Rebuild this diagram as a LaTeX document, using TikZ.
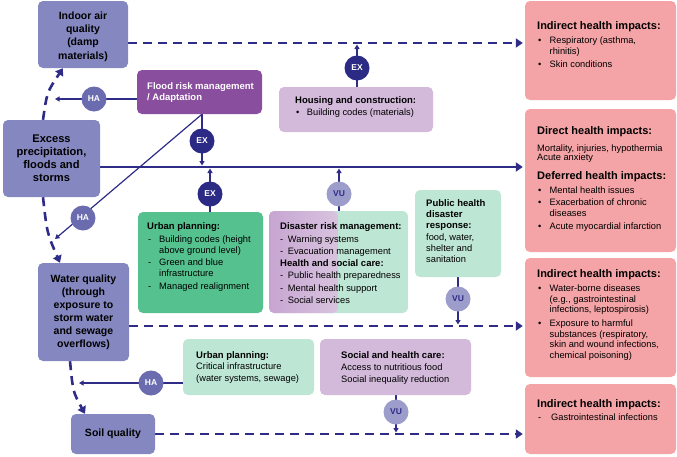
\documentclass[tikz,border=0pt]{standalone}
\usepackage{fontspec}
\setmainfont{Liberation Sans}
\usetikzlibrary{arrows.meta,backgrounds,calc}
\definecolor{navy}{HTML}{2E2C87}
\definecolor{lav}{HTML}{8587C0}
\definecolor{haC}{HTML}{6B6BB0}
\definecolor{exC}{HTML}{2B2A84}
\definecolor{vuC}{HTML}{9D9DCC}
\definecolor{flood}{HTML}{8A4E9E}
\definecolor{lpurp}{HTML}{D3BADB}
\definecolor{pinkC}{HTML}{F4A3A6}
\definecolor{greenC}{HTML}{55C18F}
\definecolor{lgreen}{HTML}{BEE6D4}
\definecolor{dpurpL}{HTML}{C7A5D1}
\definecolor{dpurpR}{HTML}{D8C3DF}
\newcommand\mybul{\makebox[11.5pt][l]{\textbullet}}
\newcommand\myind{\hspace*{11.5pt}}
\newcommand\udash{\makebox[11pt][l]{-}}
\newcommand\uind{\hspace*{11pt}}
\newcommand\ddash{\makebox[7.7pt][l]{-}}
\begin{document}
\begin{tikzpicture}[x=1pt,y=-1pt,
 box/.style={rounded corners=5pt, inner sep=0pt},
 lavbox/.style={box, fill=lav, font=\fontsize{10.5}{13}\selectfont\bfseries, align=center},
 lavtxt/.style={inner sep=0pt, font=\fontsize{10.5}{13.3}\selectfont\bfseries, align=center},
 txt/.style={inner sep=0pt, anchor=base west, align=left, font=\fontsize{9.3}{11}\selectfont},
 hd/.style={inner sep=0pt, anchor=base west, align=left, font=\fontsize{9.5}{11.3}\selectfont\bfseries},
 phd/.style={inner sep=0pt, anchor=base west, font=\fontsize{11}{13}\selectfont\bfseries},
 circ/.style={circle, minimum size=25pt, inner sep=0pt, font=\fontsize{8.5}{10}\selectfont\bfseries},
 ha/.style={circ, fill=haC, text=white},
 ex/.style={circ, fill=exC, text=white},
 vu/.style={circ, fill=vuC, text=navy},
 dsh/.style={draw=navy, line width=2.6pt, dash pattern=on 9pt off 6pt},
 bigtip/.style={-{Triangle[length=7pt,width=9pt]}},
 curvetip/.style={-{Triangle[length=7pt,width=9pt]}},
 mainln/.style={draw=navy, line width=1.9pt},
 con/.style={draw=navy, line width=1.2pt, -{Triangle[length=4.5pt,width=5pt]}}
]
\useasboundingbox (0,0) rectangle (677,456);

% ---------- boxes ----------
\node[box, fill=lav, minimum width=90pt, minimum height=67pt] (indoor) at (83,34.5) {};
\node[lavtxt] (indoortxt) at (83,36.5) {Indoor air\\quality\\(damp\\materials)};
\node[lavbox, minimum width=97pt, minimum height=77pt, font=\fontsize{11.1}{13.1}\selectfont\bfseries] (excess) at (51.5,158.5) {Excess\\precipitation,\\floods and\\storms};
\node[lavbox, minimum width=91pt, minimum height=98pt] (water) at (83.5,312) {Water quality\\(through\\exposure to\\storm water\\and sewage\\overflows)};
\node[lavbox, minimum width=84pt, minimum height=40pt] (soil) at (113,434) {Soil quality};

\node[box, fill=flood, minimum width=125pt, minimum height=44pt] (floodbox) at (199.5,92) {};
\node[box, fill=lpurp, minimum width=154pt, minimum height=45pt] (housing) at (356,109.5) {};
\node[box, fill=greenC, minimum width=125pt, minimum height=101pt] (urban) at (200.5,262.5) {};
\node[box, minimum width=139pt, minimum height=102pt, path picture={
  \fill[lgreen] (path picture bounding box.south west) rectangle (path picture bounding box.north east);
  \shade[left color=dpurpL, right color=dpurpR] (path picture bounding box.south west) rectangle ([xshift=69pt]path picture bounding box.north west);
}] (disaster) at (338.5,262) {};
\node[box, fill=lgreen, minimum width=86pt, minimum height=87pt] (public) at (458,233.5) {};
\node[box, fill=lgreen, minimum width=131pt, minimum height=56pt] (crit) at (248.5,367) {};
\node[box, fill=lpurp, minimum width=151pt, minimum height=56pt] (social) at (395.5,367) {};

\node[box, fill=pinkC, minimum width=151pt, minimum height=99pt] (pink1) at (600.5,50.5) {};
\node[box, fill=pinkC, minimum width=151pt, minimum height=143pt] (pink2) at (600.5,180.5) {};
\node[box, fill=pinkC, minimum width=151pt, minimum height=119pt] (pink3) at (600.5,317.5) {};
\node[box, fill=pinkC, minimum width=151pt, minimum height=70pt] (pink4) at (600.5,419) {};

% ---------- texts (multi-line nodes are placed at their LAST baseline) ----------
\node[hd, text=white] (floodtxt) at (147,100.3) {Flood risk management\\/ Adaptation};
\node[hd] (househ) at (295,103.3) {Housing and construction:};
\node[txt] (houset) at (296,115.7) {\makebox[10.7pt][l]{\textbullet}Building codes (materials)};

\node[hd] (urbanh) at (147,229.3) {Urban planning:};
\node[txt] (urbant) at (148,289.2) {\udash Building codes (height\\\uind above ground level)\\[1.6pt]\udash Green and blue\\\uind infrastructure\\[1.6pt]\udash Managed realignment};

\node[hd] (dish) at (280,229.3) {Disaster risk management:};
\node[txt] (dist) at (280,254.6) {\ddash Warning systems\\[1.6pt]\ddash Evacuation management};
\node[hd] (dish2) at (280,266) {Health and social care:};
\node[txt] (dist2) at (280,303.3) {\ddash Public health preparedness\\[1.3pt]\ddash Mental health support\\[1.3pt]\ddash Social services};

\node[hd] (pubh) at (426,228.6) {Public health\\disaster\\response:};
\node[txt] (pubt) at (426,262.3) {food, water,\\shelter and\\sanitation};

\node[hd] (crith) at (196,358.3) {Urban planning:};
\node[txt, font=\fontsize{9.3}{11.6}\selectfont] (critt) at (196,381.3) {Critical infrastructure\\(water systems, sewage)};
\node[hd] (socialh) at (341,358.3) {Social and health care:};
\node[txt, font=\fontsize{9.3}{11.6}\selectfont] (socialt) at (341,382.3) {Access to nutritious food\\Social inequality reduction};

\node[phd] (p1h) at (537,29.5) {Indirect health impacts:};
\node[txt] (p1t) at (538,67.3) {\mybul Respiratory (asthma,\\\myind rhinitis)\\[1.6pt]\mybul Skin conditions};
\node[phd] (p2h) at (537,134.3) {Direct health impacts:};
\node[txt, font=\fontsize{9.3}{9.8}\selectfont] (p2t) at (537,160.8) {Mortality, injuries, hypothermia\\Acute anxiety};
\node[phd] (p2d) at (537,179.3) {Deferred health impacts:};
\node[txt] (p2l) at (538,229) {\mybul Mental health issues\\[1pt]\mybul Exacerbation of chronic\\\myind diseases\\[2pt]\mybul Acute myocardial infarction};
\node[phd] (p3h) at (537,277.5) {Indirect health impacts:};
\node[txt, font=\fontsize{9.3}{10.8}\selectfont] (p3t) at (538,358.6) {\mybul Water-borne diseases\\\myind (e.g., gastrointestinal\\\myind infections, leptospirosis)\\[2.5pt]\mybul Exposure to harmful\\\myind substances (respiratory,\\\myind skin and wound infections,\\\myind chemical poisoning)};
\node[phd] (p4h) at (537,407.5) {Indirect health impacts:};
\node[txt] (p4t) at (538,420.5) {\makebox[13pt][l]{-}Gastrointestinal infections};

% ---------- circles ----------
\node[ha] (ha1) at (94,99) {HA};
\node[ha] (ha2) at (83,218) {HA};
\node[ha] (ha3) at (151,383) {HA};
\node[ex] (ex1) at (202,141) {EX};
\node[ex] (ex2) at (210,194) {EX};
\node[ex] (ex3) at (357,68) {EX};
\node[vu] (vu1) at (339,194) {VU};
\node[vu] (vu2) at (458,299) {VU};
\node[vu] (vu3) at (396,412) {VU};

% ---------- coordinates ----------
\coordinate (tA) at ([xshift=-2pt]pink1.west |- 0,43);
\coordinate (tB) at ([xshift=-2pt]pink2.west |- 0,167);
\coordinate (tC) at ([xshift=-2pt]pink3.west |- 0,326);
\coordinate (tD) at ([xshift=-2pt]pink4.west |- 0,434);
\coordinate (fl) at (ex1 |- floodbox.south);
\coordinate (haOneTip) at (55,99);
\coordinate (haTwoTip) at (55,239);
\coordinate (haThreeTip) at (79,383);

% ---------- connectors ----------
\begin{scope}[on background layer]
\draw[dsh, bigtip] (indoor.east |- tA) -- (tA);
\draw[mainln, bigtip] (excess.east |- tB) -- (tB);
\draw[dsh, bigtip] (water.east |- tC) -- (tC);
\draw[dsh, bigtip] (soil.east) -- (tD);
\draw[dsh, curvetip] ([xshift=-8.5pt]excess.north) .. controls (47,92) .. ([xshift=-20pt]indoor.south);
\draw[dsh, curvetip] ([xshift=-8.5pt]excess.south) .. controls (47,233) .. ([xshift=-23.5pt]water.north);
\draw[dsh, curvetip] ([xshift=-13.5pt]water.south) .. controls (73,392) .. ([xshift=-28pt]soil.north);

\draw[con] (floodbox.west |- ha1) -- (haOneTip);
\draw[con] (fl) -- (ex1 |- 0,165.5);
\draw[con] (fl) -- (haTwoTip);
\draw[con] (ex2 |- urban.north) -- (ex2 |- 0,168.5);
\draw[con] (vu1 |- disaster.north) -- (vu1 |- 0,168.5);
\draw[con] (ex3 |- housing.north) -- (ex3 |- 0,44.5);
\draw[con] (vu2 |- public.south) -- (vu2 |- 0,324.5);
\draw[con] (crit.west |- ha3) -- (haThreeTip);
\draw[con] (vu3 |- social.south) -- (vu3 |- 0,432.5);
\end{scope}
\end{tikzpicture}
\end{document}
